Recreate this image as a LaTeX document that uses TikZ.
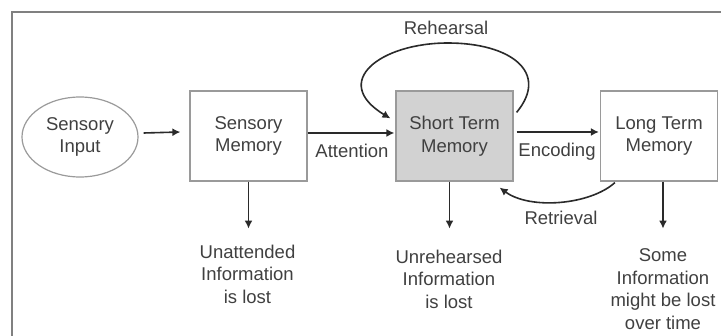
\documentclass[tikz,border=0pt]{standalone}
\usepackage{fontspec}
\setmainfont{Liberation Sans}
\usetikzlibrary{arrows.meta,calc,shapes.geometric}
\definecolor{txt}{HTML}{404040}
\definecolor{edge}{HTML}{9A9A9A}
\definecolor{stmfill}{HTML}{D2D2D2}
\definecolor{frame}{HTML}{808080}
\definecolor{arr}{HTML}{2A2A2A}
\tikzset{
  lbl/.style={text=txt, font=\fontsize{18.5}{22.5}\selectfont, align=center, inner sep=0pt},
  membox/.style={draw=edge, line width=1.2pt, minimum width=117pt, minimum height=90pt, lbl},
  flow/.style={draw=arr, line width=1.6pt, -{Latex[length=8pt,width=8pt]}},
}
\begin{document}
\begin{tikzpicture}[x=1pt,y=-1pt]
\useasboundingbox (0,0) rectangle (721,336);
% outer frame (runs past the right and bottom edges)
\draw[frame, line width=1.5pt] (12,345) -- (12,12) -- (730,12);

% memory stores
\node[draw=edge, line width=1.2pt, ellipse, minimum width=116pt, minimum height=80pt, lbl] (input) at (80,137) {Sensory\\Input};
\node[membox] (sm) at (248.5,136) {Sensory\\Memory};
\node[membox, fill=stmfill] (stm) at (454.5,136) {Short Term\\Memory};
\node[membox] (ltm) at (659,136) {Long Term\\Memory};

% forward flow
\draw[flow] ($(input.east)+(5,-4)$) -- ($(sm.west)+(-9,-4)$);
\draw[flow] ($(sm.east)+(0,-3)$) -- ($(stm.west)+(-1,-3)$);
\draw[flow] ($(stm.east)+(3,-4)$) -- ($(ltm.west)+(-1,-4)$);
\node[lbl] (att) at (352,151) {Attention};
\node[lbl] (enc) at (557,152) {Encoding};

% rehearsal loop
\coordinate (rs) at ($(stm.north east)+(3,22)$);
\coordinate (re) at ($(stm.north west)+(-5,28)$);
\draw[flow] (rs) .. controls (550,72) and (510,43) .. (448,43)
               .. controls (380,43) and (330,82) .. (re);
\node[lbl] (reh) at (446,28) {Rehearsal};

% retrieval
\coordinate (ts) at ($(ltm.south west)+(15,1)$);
\coordinate (te) at ($(stm.south east)+(-14,6)$);
\draw[flow] (ts) .. controls (590,205) and (530,210) .. (te);
\node[lbl] (ret) at (561,218) {Retrieval};

% information loss
\node[lbl] (l1) at (247.5,274) {Unattended\\Information\\is lost};
\node[lbl] (l2) at (449,279) {Unrehearsed\\Information\\is lost};
\node[lbl] (l3) at (663,289) {Some\\Information\\might be lost\\over time};
\draw[flow] (sm.south) -- ++(0,47);
\draw[flow] ($(stm.south)+(-5,0)$) -- ++(0,47);
\draw[flow] ($(ltm.south)+(4,0)$) -- ++(0,47);
\end{tikzpicture}
\end{document}
